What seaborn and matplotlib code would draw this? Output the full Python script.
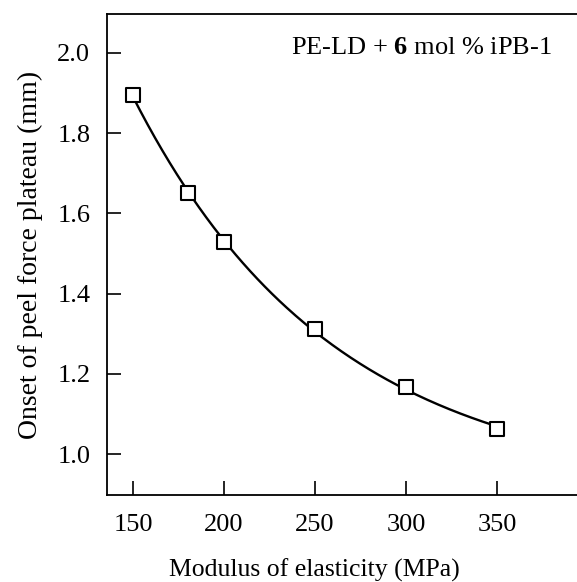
import numpy as np
import pandas as pd
import matplotlib
matplotlib.use("Agg")
import matplotlib.pyplot as plt
import seaborn as sns

# values
modulus = [150, 180, 200, 250, 300, 350]          # MPa
onset = [1.895, 1.650, 1.528, 1.311, 1.167, 1.063]  # mm
x_ticks = [150, 200, 250, 300, 350]
y_ticks = [1.0, 1.2, 1.4, 1.6, 1.8, 2.0]

df = pd.DataFrame({"Modulus": modulus, "Onset": onset})

# exponential decay fit y = c + a*exp(-x/t), t by grid search
x = np.array(modulus, dtype=float)
y = np.array(onset)
best = None
for t in np.linspace(30, 600, 1141):
    A = np.column_stack([np.ones_like(x), np.exp(-x / t)])
    coef, res, *_ = np.linalg.lstsq(A, y, rcond=None)
    err = np.sum((A @ coef - y) ** 2)
    if best is None or err < best[0]:
        best = (err, t, coef)
_, t_fit, (c_fit, a_fit) = best
xs = np.linspace(min(modulus), max(modulus), 200)
fit = pd.DataFrame({"Modulus": xs, "Onset": c_fit + a_fit * np.exp(-xs / t_fit)})

sns.set_style("ticks")
plt.rcParams["font.family"] = ["Liberation Serif", "DejaVu Serif"]
plt.rcParams["mathtext.fontset"] = "custom"
plt.rcParams["mathtext.rm"] = "Liberation Serif"
plt.rcParams["mathtext.bf"] = "Liberation Serif:bold"
plt.rcParams["text.color"] = "black"
plt.rcParams["axes.labelcolor"] = "black"
plt.rcParams["xtick.color"] = "black"
plt.rcParams["ytick.color"] = "black"
plt.rcParams["axes.edgecolor"] = "black"

fig = plt.figure(figsize=(5.77, 5.82), dpi=100)
ax = fig.add_axes([107 / 577, 87 / 582, 470 / 577, 481 / 582])

sns.lineplot(data=fit, x="Modulus", y="Onset", ax=ax, color="black", lw=1.7)
sns.scatterplot(data=df, x="Modulus", y="Onset", ax=ax, marker="s", s=100,
                facecolor="white", edgecolor="black", linewidth=1.5, zorder=5)

ax.set_xlim(135.7, 394)
ax.set_ylim(0.898, 2.097)
ax.set_xticks(x_ticks)
ax.set_yticks(y_ticks)
ax.set_yticklabels([f"{v:.1f}" for v in y_ticks])

ax.spines["right"].set_visible(False)
for s in ["left", "top", "bottom"]:
    ax.spines[s].set_linewidth(1.3)
ax.tick_params(direction="in", length=10, width=1.2, labelsize=19)
ax.tick_params(axis="y", pad=12)
ax.tick_params(axis="x", pad=14)

ax.set_xlabel("Modulus of elasticity (MPa)", fontsize=18.5, labelpad=16,
              x=(314 - 107) / 470)
ax.set_ylabel("Onset of peel force plateau (mm)", fontsize=20, labelpad=10)

ax.text(0.392, 0.93, r"PE-LD + $\mathbf{6}$ mol % iPB-1",
        transform=ax.transAxes, fontsize=19, ha="left", va="center")

fig.savefig("out.png", dpi=100)
